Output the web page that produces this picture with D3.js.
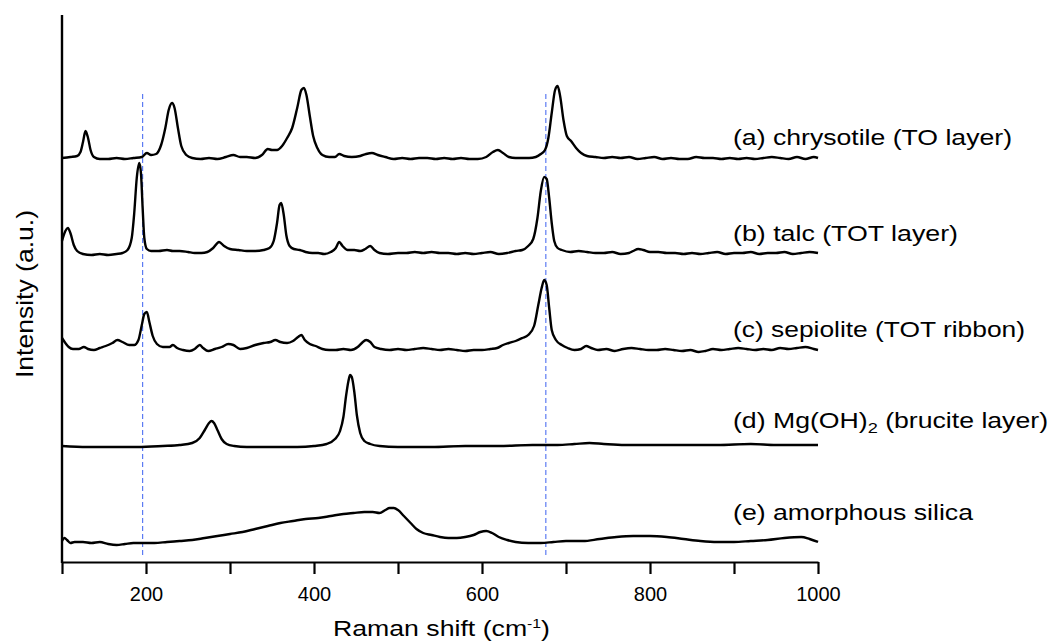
<!DOCTYPE html>
<html>
<head>
<meta charset="utf-8">
<script src="https://cdn.jsdelivr.net/npm/d3@7"></script>
<style>
  body { margin: 0; background: #fff; }
  text { font-family: "Liberation Sans", Arial, sans-serif; fill: #000; }
</style>
</head>
<body>
<div class="container"></div>
<script>
// raman spectra, stacked with an offset each (a.u.)
var names = ["a", "b", "c", "d", "e"];
var offsets = [404, 309, 212, 115, 19];
var refLines = [196, 676];
var xTicks = [100, 200, 300, 400, 500, 600, 700, 800, 900, 1000];

var chrysotile = [[100,0],[110,1],[118,2],[122,6],[125,16],[128,27],[131,20],[134,8],[138,1],[145,-1],[155,-1],[165,0],[175,-1],[185,0],[195,1],[201,5],[206,3],[212,4],[218,13],[223,30],[227,48],[231,55],[234,50],[238,30],[242,12],[248,3],[255,0],[265,-1],[275,0],[285,-1],[295,1],[304,3],[312,1],[320,1],[330,0],[338,3],[345,9],[350,8],[356,8],[362,12],[368,20],[374,30],[380,50],[385,68],[388,70],[391,63],[395,42],[399,22],[404,10],[410,3],[418,1],[425,1],[430,4],[436,2],[445,1],[455,2],[462,4],[469,5],[476,3],[485,1],[495,-1],[505,0],[515,-1],[525,0],[535,0],[545,-1],[555,0],[565,-1],[575,0],[585,-1],[595,-1],[605,1],[613,6],[619,8],[625,5],[632,1],[640,0],[648,0],[656,0],[664,1],[670,4],[675,8],[679,20],[683,45],[687,68],[690,72],[693,62],[697,38],[701,22],[706,17],[712,10],[718,5],[725,2],[735,1],[745,0],[755,1],[765,0],[775,1],[785,-1],[795,0],[805,1],[815,-1],[825,0],[835,-1],[845,-1],[855,1],[865,0],[875,0],[885,-1],[895,0],[905,-1],[915,0],[925,-1],[935,0],[945,1],[955,0],[965,-1],[975,1],[985,-1],[995,1],[1000,0]];

var talc = [[100,12],[104,22],[107,25],[110,20],[114,8],[118,2],[125,-1],[135,-2],[145,-1],[155,-2],[165,-1],[172,0],[178,3],[183,15],[186,40],[189,75],[192,90],[194,80],[196,45],[198,15],[201,4],[206,2],[215,2],[225,3],[232,2],[240,2],[250,1],[258,0],[266,0],[273,1],[280,5],[287,11],[293,7],[300,4],[310,3],[320,2],[330,2],[340,3],[347,5],[352,12],[356,30],[359,48],[361,50],[364,38],[367,18],[371,7],[376,4],[383,3],[390,1],[398,0],[405,0],[412,-1],[420,1],[426,5],[430,11],[434,7],[440,3],[448,3],[455,2],[461,4],[467,7],[472,3],[478,0],[488,-1],[500,0],[510,0],[520,1],[530,0],[540,1],[550,0],[560,0],[570,-1],[580,0],[590,-1],[600,0],[610,1],[620,-1],[630,0],[640,2],[648,3],[655,7],[661,14],[666,35],[670,62],[674,76],[677,74],[680,55],[683,30],[686,12],[690,5],[695,3],[705,1],[715,2],[725,1],[735,0],[745,0],[755,1],[765,-1],[775,0],[780,2],[786,4],[792,3],[800,1],[810,1],[820,0],[830,0],[840,-1],[850,0],[860,-1],[870,0],[880,1],[890,-1],[900,0],[910,0],[920,1],[930,-1],[940,0],[950,0],[960,1],[970,-1],[980,0],[990,1],[1000,0]];

var sepiolite = [[100,12],[104,7],[108,3],[113,1],[120,1],[126,3],[131,1],[138,0],[145,2],[152,4],[160,7],[166,10],[172,8],[180,5],[186,5],[191,10],[195,25],[198,36],[201,38],[204,28],[208,14],[213,6],[220,3],[228,3],[232,5],[237,2],[244,0],[252,-1],[258,1],[264,5],[268,2],[274,-1],[282,1],[290,3],[298,6],[304,5],[312,1],[320,2],[330,5],[340,7],[348,8],[354,10],[360,8],[368,7],[375,9],[381,13],[385,15],[389,10],[395,6],[402,4],[410,1],[418,0],[426,0],[435,1],[444,0],[452,3],[457,7],[462,10],[467,8],[472,3],[480,1],[490,0],[500,1],[510,0],[520,1],[530,2],[540,1],[550,0],[560,1],[570,0],[580,-1],[590,0],[600,0],[610,1],[618,2],[625,5],[632,7],[640,9],[648,12],[655,15],[662,24],[667,45],[671,62],[674,70],[677,65],[680,42],[683,20],[688,10],[695,5],[702,2],[710,0],[718,1],[724,4],[730,2],[738,0],[748,1],[758,-1],[768,1],[778,2],[788,1],[798,0],[808,0],[818,1],[828,0],[838,-1],[848,0],[858,-2],[866,-1],[875,1],[885,0],[895,1],[905,2],[915,1],[925,0],[935,1],[945,0],[955,2],[965,1],[975,2],[985,3],[995,1],[1000,0]];

var brucite = [[100,1],[130,0],[160,0],[190,0],[220,1],[240,2],[255,4],[264,9],[270,17],[275,24],[278,26],[281,24],[285,17],[290,8],[296,3],[305,1],[320,0],[350,0],[380,0],[400,1],[415,3],[425,8],[431,16],[435,30],[438,50],[441,66],[443,72],[445,70],[448,55],[451,32],[455,14],[460,6],[467,3],[478,1],[500,0],[540,0],[580,1],[620,1],[660,2],[690,2],[710,3],[728,4],[745,3],[770,2],[800,2],[840,2],[880,2],[920,3],[950,2],[980,2],[1000,2]];

var silica = [[100,2],[103,5],[106,3],[110,0],[115,1],[125,1],[135,0],[145,1],[155,-1],[165,-2],[175,-1],[185,0],[195,0],[210,0],[225,1],[240,2],[255,3],[270,5],[285,7],[300,9],[315,11],[330,14],[345,17],[360,20],[375,22],[390,24],[405,25],[420,27],[435,29],[447,30],[460,31],[470,31],[478,30],[485,33],[490,35],[495,35],[500,33],[507,27],[515,20],[522,14],[530,10],[540,8],[550,6],[560,5],[570,5],[580,6],[590,8],[598,11],[605,12],[612,10],[620,6],[630,3],[640,1],[655,0],[670,0],[685,1],[700,2],[720,2],[740,4],[760,6],[780,7],[800,7],[820,6],[840,4],[860,2],[880,1],[900,1],[920,2],[940,3],[960,5],[980,6],[990,4],[1000,1]];

var spectra = [chrysotile, talc, sepiolite, brucite, silica];

var width = 1051, height = 641;
var svg = d3.select(".container").append("svg")
  .attr("width", width).attr("height", height);

var x = d3.scaleLinear().domain([100, 1000]).range([62, 818]);
var y = d3.scaleLinear().domain([0, 547]).range([562, 15]);

// dashed reference lines
svg.selectAll(".ref")
  .data(refLines)
  .enter().append("line")
  .attr("x1", function(d) { return x(d) }).attr("x2", function(d) { return x(d) })
  .attr("y1", y(7)).attr("y2", y(470))
  .style("stroke", "#4d6ff2")
  .style("stroke-width", 1.1)
  .style("stroke-dasharray", "5,3");

var line = d3.line()
  .x(function(d) { return x(d[0]) })
  .curve(d3.curveMonotoneX);

svg.selectAll(".spec")
  .data(spectra)
  .enter().append("path")
  .attr("d", function(d, i) {
    return line.y(function(p) { return y(p[1] + offsets[i]) })(d);
  })
  .style("fill", "none")
  .style("stroke", "#000")
  .style("stroke-width", 2.4)
  .style("stroke-linejoin", "round");

// axes
var xAxis = d3.axisBottom(x)
  .tickValues(xTicks)
  .tickSize(12)
  .tickSizeOuter(0)
  .tickPadding(13)
  .tickFormat(function(d) { return d % 200 === 0 ? d : "" });

var gx = svg.append("g").attr("transform", "translate(0," + y(0) + ")").call(xAxis);
gx.select(".domain").style("stroke-width", 2.2);
gx.selectAll(".tick line").style("stroke-width", 2.2);
gx.selectAll(".tick text").style("font-size", "20px")
  .style("font-family", '"Liberation Sans", Arial, sans-serif');

svg.append("line")
  .attr("x1", x(100)).attr("x2", x(100))
  .attr("y1", y(0) + 1).attr("y2", y(547))
  .style("stroke", "#000").style("stroke-width", 2.4);

// axis titles
var xt = svg.append("text")
  .attr("x", 333).attr("y", 636)
  .attr("textLength", 217).attr("lengthAdjust", "spacingAndGlyphs")
  .style("font-size", "22px");
xt.append("tspan").text("Raman shift (cm");
xt.append("tspan").attr("dy", -8).style("font-size", "13px").text("-1");
xt.append("tspan").attr("dy", 8).text(")");

svg.append("text")
  .attr("transform", "translate(33,294) rotate(-90)")
  .attr("text-anchor", "middle")
  .attr("textLength", 168).attr("lengthAdjust", "spacingAndGlyphs")
  .style("font-size", "24px")
  .text("Intensity (a.u.)");

// series labels
var labelY = [145, 241, 337, 428, 520];
var labelW = [279, 225, 292, 315, 240];
var labels = ["(a) chrysotile (TO layer)", "(b) talc (TOT layer)", "(c) sepiolite (TOT ribbon)", null, "(e) amorphous silica"];

labels.forEach(function(t, i) {
  var el = svg.append("text")
    .attr("x", 733).attr("y", labelY[i])
    .attr("textLength", labelW[i]).attr("lengthAdjust", "spacingAndGlyphs")
    .style("font-size", "22px");
  if (t) { el.text(t); return; }
  el.append("tspan").text("(d) Mg(OH)");
  el.append("tspan").attr("dy", 5).style("font-size", "15px").text("2");
  el.append("tspan").attr("dy", -5).text(" (brucite layer)");
});
</script>
</body>
</html>
